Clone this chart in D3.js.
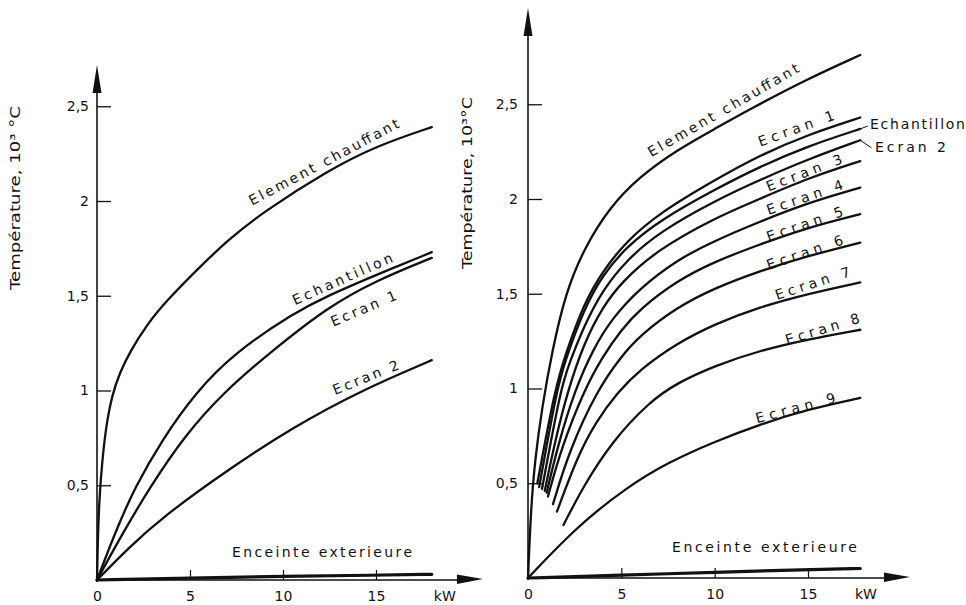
<!DOCTYPE html>
<html><head><meta charset="utf-8">
<script src="https://cdn.jsdelivr.net/npm/d3@7/dist/d3.min.js"></script>
<style>
html,body{margin:0;padding:0;background:#fff;}
svg text{font-family:"DejaVu Sans",sans-serif;fill:#111;}
</style></head>
<body><svg id="c" width="966" height="605"></svg>
<script>
// ---------- data ----------
const yTickValues = [0.5, 1, 1.5, 2, 2.5];
const xTickValues = [0, 5, 10, 15];
const xUnit = "kW";
const yTitleLeft = "Température, 10³ °C";
const yTitleRight = "Température, 10³°C";

// left panel series: [power kW, temperature 10^3 °C]
const leftElement    = [[0,0],[0.04,0.2],[0.12,0.42],[0.27,0.62],[0.5,0.82],[0.8,0.97],[1.2,1.09],[1.8,1.21],[2.7,1.35],[3.7,1.47],[5.5,1.65],[7,1.79],[8.9,1.94],[12.4,2.16],[15,2.29],[18,2.39]];
const leftEchantillon= [[0,0],[0.97,0.25],[2.04,0.49],[3.5,0.74],[5.3,0.99],[7.4,1.20],[10.6,1.41],[12.4,1.50],[15,1.61],[18,1.73]];
const leftEcran1     = [[0,0],[1.4,0.25],[2.85,0.49],[4.7,0.76],[6.8,0.99],[9.3,1.20],[12.4,1.44],[15,1.58],[18,1.70]];
const leftEcran2     = [[0,0],[1.7,0.17],[3.5,0.33],[7.0,0.58],[10.6,0.81],[14.2,1.0],[18,1.16]];
const leftEnceinte   = [[0,0],[5,0.01],[10,0.02],[15,0.025],[18,0.03]];

// right panel series
const rightElement    = [[0,0],[0.16,0.37],[0.37,0.62],[0.75,0.90],[1.3,1.20],[2,1.50],[3,1.74],[4.4,1.96],[6,2.12],[8,2.26],[10,2.37],[12,2.48],[14.9,2.63],[17.8,2.76]];
const rightEcran1     = [[0.5,0.50],[1.45,1.0],[2,1.18],[3,1.45],[4,1.62],[5.3,1.78],[7.1,1.93],[10,2.10],[12.4,2.23],[15,2.34],[17.8,2.43]];
const rightEchantillon= [[0.6,0.48],[1.55,1.0],[2,1.15],[3,1.42],[4,1.60],[5.3,1.75],[7.1,1.89],[10,2.05],[12.4,2.17],[15,2.28],[17.8,2.37]];
const rightEcran2     = [[0.75,0.47],[1.75,1.0],[2.2,1.13],[3,1.33],[4,1.52],[5.3,1.68],[7.1,1.83],[10,1.99],[12.4,2.10],[15,2.21],[17.8,2.31]];
const rightEcran3     = [[0.9,0.46],[1.4,0.7],[2.1,0.98],[3,1.24],[4,1.43],[5,1.56],[6.9,1.73],[10,1.90],[12.4,2.00],[15,2.11],[17.8,2.20]];
const rightEcran4     = [[1.0,0.45],[1.6,0.7],[2.5,0.99],[3.5,1.21],[4.5,1.37],[6,1.53],[8,1.68],[10,1.78],[12.4,1.88],[15,1.98],[17.8,2.06]];
const rightEcran5     = [[1.07,0.43],[1.8,0.69],[3,0.99],[4,1.17],[5,1.31],[6,1.42],[8,1.57],[10,1.67],[12.4,1.76],[15,1.85],[17.8,1.92]];
const rightEcran6     = [[1.34,0.39],[2.2,0.67],[3.7,0.99],[5,1.17],[6,1.28],[8,1.43],[10,1.53],[12.4,1.62],[15,1.70],[17.8,1.77]];
const rightEcran7     = [[1.55,0.35],[2.6,0.63],[3.6,0.82],[4.8,0.98],[6,1.10],[8,1.24],[10,1.34],[12.4,1.43],[15,1.50],[17.8,1.56]];
const rightEcran8     = [[1.9,0.28],[3,0.49],[4.5,0.72],[6.5,0.93],[8,1.03],[10,1.12],[12.4,1.20],[15,1.26],[17.8,1.31]];
const rightEcran9     = [[0,0],[2.6,0.27],[5.3,0.48],[7.5,0.61],[10,0.72],[12.4,0.81],[15,0.89],[17.8,0.95]];
const rightEnceinte   = [[0,0],[5,0.015],[10,0.03],[15,0.045],[17.8,0.05]];

const leftNames  = ["Element chauffant","Echantillon","Ecran 1","Ecran 2","Enceinte exterieure"];
const rightNames = ["Element chauffant","Ecran 1","Echantillon","Ecran 2","Ecran 3","Ecran 4","Ecran 5","Ecran 6","Ecran 7","Ecran 8","Ecran 9","Enceinte exterieure"];

// ---------- layout ----------
const svg = d3.select("#c");
const fmt = d => String(d).replace(".", ",");

const panels = [
  {
    x: d3.scaleLinear().domain([0,15]).range([97,376]),
    y: d3.scaleLinear().domain([0,2.5]).range([580,106.25]),
    series: [leftElement,leftEchantillon,leftEcran1,leftEcran2,leftEnceinte],
    names: leftNames,
    widths: [2.3,2.3,2.3,2.3,3.2],
    // label anchors in data units: [v, T, angle, length]
    labels: [[8.33,1.975,-28,168],[10.65,1.45,-24,108],[12.7,1.337,-23,70],[12.8,0.976,-22,70],[7.26,0.121,0,180]],
    title: yTitleLeft, titleX: 20, titleY: 198, titleLen: 184,
    yArrowTop: 65, xArrowTip: 20.75, unitV: 18.7, tickPad: 11, yPad: 8
  },
  {
    x: d3.scaleLinear().domain([0,15]).range([528,808]),
    y: d3.scaleLinear().domain([0,2.5]).range([578,104.25]),
    series: [rightElement,rightEcran1,rightEchantillon,rightEcran2,rightEcran3,rightEcran4,rightEcran5,rightEcran6,rightEcran7,rightEcran8,rightEcran9,rightEnceinte],
    names: rightNames,
    widths: [2.3,2.3,2.3,2.3,2.3,2.3,2.3,2.3,2.3,2.3,2.3,3.2],
    labels: [[6.6,2.22,-30,172],[12.44,2.276,-20,80],[18.32,2.37,0,95],[18.59,2.25,0,71],[12.89,2.039,-21,80],[12.89,1.916,-19,80],[12.89,1.775,-19,80],[12.89,1.625,-19,80],[13.34,1.467,-18,78],[13.87,1.23,-17,77],[12.27,0.816,-15,82],[7.71,0.137,0,185]],
    leaders: [[2,17.8,2.37,18.2,2.385],[3,17.8,2.31,18.4,2.27]],
    title: yTitleRight, titleX: 472, titleY: 183, titleLen: 172,
    yArrowTop: 8, xArrowTip: 20.46, unitV: 18.1, tickPad: 11, yPad: 10
  }
];

panels.forEach(p => {
  const g = svg.append("g");
  const x = p.x, y = p.y;

  // y axis
  const ya = g.append("g").attr("transform", `translate(${x(0)},0)`)
    .call(d3.axisLeft(y).tickValues(yTickValues).tickSize(-14).tickPadding(p.yPad).tickFormat(fmt));
  ya.select(".domain").remove();
  ya.selectAll(".tick line").attr("stroke","#111").attr("stroke-width",1.3);
  ya.selectAll(".tick text").attr("font-size",14).attr("font-family","DejaVu Sans").attr("fill","#111");

  // x axis
  const xa = g.append("g").attr("transform", `translate(0,${y(0)})`)
    .call(d3.axisBottom(x).tickValues(xTickValues).tickSize(-10).tickPadding(p.tickPad).tickFormat(fmt));
  xa.select(".domain").remove();
  xa.selectAll(".tick line").attr("stroke","#111").attr("stroke-width",1.2);
  xa.selectAll(".tick text").attr("font-size",14).attr("font-family","DejaVu Sans").attr("fill","#111");

  // axis lines with arrows
  const x0 = x(0), y0 = y(0), xt = x(p.xArrowTip);
  g.append("line").attr("x1",x0).attr("y1",y0+2).attr("x2",x0).attr("y2",p.yArrowTop+20)
    .attr("stroke","#111").attr("stroke-width",1.6);
  g.append("path").attr("d",`M${x0},${p.yArrowTop} L${x0-4.5},${p.yArrowTop+28} L${x0+4.5},${p.yArrowTop+28} Z`).attr("fill","#111");
  g.append("line").attr("x1",x0).attr("y1",y0).attr("x2",xt-20).attr("y2",y0)
    .attr("stroke","#111").attr("stroke-width",1.6);
  g.append("path").attr("d",`M${xt},${y0-1} L${xt-26},${y0-5.5} L${xt-26},${y0+4} Z`).attr("fill","#111");

  // unit
  g.append("text").attr("x",x(p.unitV)).attr("y",y0+21).attr("text-anchor","middle")
    .attr("font-size",14).text(xUnit);

  // title
  g.append("text").attr("transform",`translate(${p.titleX},${p.titleY}) rotate(-90)`)
    .attr("text-anchor","middle").attr("font-size",14).attr("textLength",p.titleLen)
    .attr("lengthAdjust","spacingAndGlyphs").text(p.title);

  // curves
  const line = d3.line().x(d => x(d[0])).y(d => y(d[1])).curve(d3.curveBasis);
  p.series.forEach((s,i) => {
    g.append("path").attr("d", line(s)).attr("fill","none").attr("stroke","#111")
      .attr("stroke-width", p.widths[i]).attr("stroke-linecap","round").attr("stroke-linejoin","round");
  });

  // leaders
  (p.leaders||[]).forEach(l => {
    g.append("line").attr("x1",x(l[1])).attr("y1",y(l[2])).attr("x2",x(l[3])).attr("y2",y(l[4]))
      .attr("stroke","#111").attr("stroke-width",1);
  });

  // labels
  p.names.forEach((n,i) => {
    const L = p.labels[i];
    g.append("text").attr("transform",`translate(${x(L[0])},${y(L[1])}) rotate(${L[2]})`)
      .attr("font-size",14).attr("textLength",L[3]).attr("lengthAdjust","spacing").text(n);
  });
});
</script></body></html>
